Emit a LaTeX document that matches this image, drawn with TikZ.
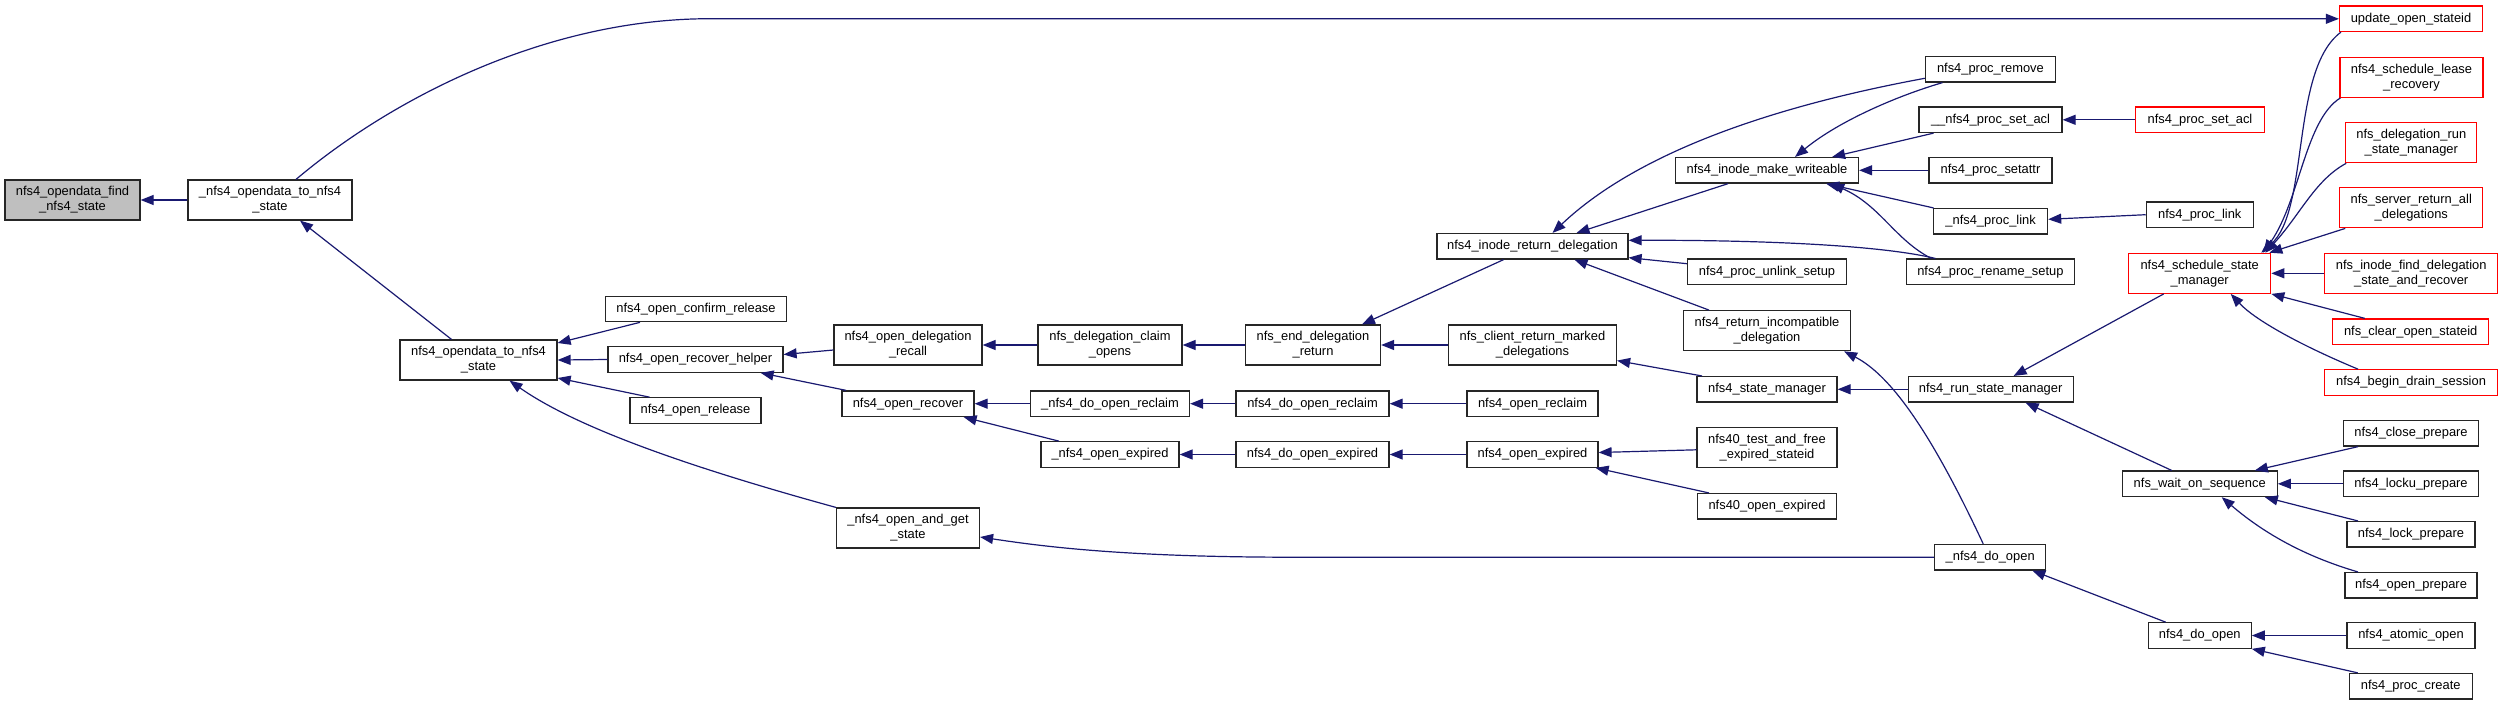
\documentclass[tikz,border=0pt]{standalone}
\usepackage{fontspec}
\setmainfont{Liberation Sans}
\usetikzlibrary{arrows.meta}
\definecolor{edgec}{HTML}{191970}
\definecolor{nodegrey}{HTML}{BFBFBF}
\tikzset{
  fn/.style={draw=black!85, line width=1.2pt, fill=white, inner sep=0pt, align=center,
    font=\fontsize{12.9}{15}\selectfont, minimum height=25.5pt},
  fnb/.style={fn, minimum height=40pt},
  redfn/.style={draw=red},
  e/.style={color=edgec, line width=1.2pt, -{Triangle[length=13pt,width=10pt]}},
}
\begin{document}
\begin{tikzpicture}[x=1pt,y=-1pt]
\useasboundingbox (0,0) rectangle (2503,705);
% column 0-2
\node[fnb, minimum width=135pt, fill=nodegrey] (find) at (72.5,200) {nfs4\_opendata\_find\\\_nfs4\_state};
\node[fnb, minimum width=164pt] (A2) at (270,200) {\_nfs4\_opendata\_to\_nfs4\\\_state};
\node[fnb, minimum width=157pt] (A3) at (478.5,360) {nfs4\_opendata\_to\_nfs4\\\_state};
\node[fn, minimum width=181pt] (ocr) at (696,309) {nfs4\_open\_confirm\_release};
\node[fn, minimum width=175pt] (orh) at (695.5,359.5) {nfs4\_open\_recover\_helper};
\node[fn, minimum width=131pt] (orl) at (695.5,410.5) {nfs4\_open\_release};
\node[fnb, minimum width=148pt] (odr) at (908,345) {nfs4\_open\_delegation\\\_recall};
\node[fn, minimum width=132pt] (orc) at (908,403.7) {nfs4\_open\_recover};
\node[fnb, minimum width=143pt] (oags) at (908,528) {\_nfs4\_open\_and\_get\\\_state};
\node[fnb, minimum width=144pt] (dco) at (1110,345) {nfs\_delegation\_claim\\\_opens};
\node[fn, minimum width=159pt] (dorc) at (1110,403.7) {\_nfs4\_do\_open\_reclaim};
\node[fn, minimum width=138pt] (oexp) at (1110,454.5) {\_nfs4\_open\_expired};
\node[fnb, minimum width=135pt] (edr) at (1313,345) {nfs\_end\_delegation\\\_return};
\node[fn, minimum width=153pt] (ndorc) at (1312.5,403.7) {nfs4\_do\_open\_reclaim};
\node[fn, minimum width=153pt] (ndoexp) at (1312.5,454.5) {nfs4\_do\_open\_expired};
\node[fn, minimum width=191pt] (ird) at (1532.5,246.3) {nfs4\_inode\_return\_delegation};
\node[fnb, minimum width=168pt] (crmd) at (1532.5,345) {nfs\_client\_return\_marked\\\_delegations};
\node[fn, minimum width=131pt] (nor) at (1532.5,403.7) {nfs4\_open\_reclaim};
\node[fn, minimum width=131pt] (noe) at (1532.5,454.5) {nfs4\_open\_expired};
\node[fn, minimum width=183pt] (imw) at (1767,170.3) {nfs4\_inode\_make\_writeable};
\node[fn, minimum width=159pt] (pus) at (1767,271.7) {nfs4\_proc\_unlink\_setup};
\node[fnb, minimum width=167pt] (rid) at (1767,330.7) {nfs4\_return\_incompatible\\\_delegation};
\node[fn, minimum width=140pt] (sm) at (1767,389.3) {nfs4\_state\_manager};
\node[fnb, minimum width=140pt] (tfes) at (1767,447.8) {nfs40\_test\_and\_free\\\_expired\_stateid};
\node[fn, minimum width=139pt] (o40) at (1767,506.3) {nfs40\_open\_expired};
\node[fn, minimum width=130pt] (prm) at (1990.4,69.3) {nfs4\_proc\_remove};
\node[fn, minimum width=143pt] (psa2) at (1990.5,119.8) {\_\_nfs4\_proc\_set\_acl};
\node[fn, minimum width=123pt] (pst) at (1990.5,170.3) {nfs4\_proc\_setattr};
\node[fn, minimum width=114pt] (pl2) at (1990.6,221.3) {\_nfs4\_proc\_link};
\node[fn, minimum width=168pt] (prs) at (1990.4,271.8) {nfs4\_proc\_rename\_setup};
\node[fn, minimum width=165pt] (rsm) at (1990.6,389.3) {nfs4\_run\_state\_manager};
\node[fn, minimum width=111pt] (do2) at (1990.2,557.2) {\_nfs4\_do\_open};
\node[fn, redfn, minimum width=129pt] (psa) at (2200,119.8) {nfs4\_proc\_set\_acl};
\node[fn, minimum width=107pt] (pl) at (2199.8,214.7) {nfs4\_proc\_link};
\node[fnb, redfn, minimum width=142pt] (ssm) at (2199.7,273.3) {nfs4\_schedule\_state\\\_manager};
\node[fn, minimum width=155pt] (wos) at (2199.7,483.8) {nfs\_wait\_on\_sequence};
\node[fn, minimum width=103pt] (ndo) at (2199.7,635.5) {nfs4\_do\_open};
\node[fn, redfn, minimum width=143pt] (uos) at (2411,18.8) {update\_open\_stateid};
\node[fnb, redfn, minimum width=143pt] (slr) at (2411.5,77.3) {nfs4\_schedule\_lease\\\_recovery};
\node[fnb, redfn, minimum width=131pt] (drsm) at (2411.3,142.7) {nfs\_delegation\_run\\\_state\_manager};
\node[fnb, redfn, minimum width=143pt] (sral) at (2411.3,207.8) {nfs\_server\_return\_all\\\_delegations};
\node[fnb, redfn, minimum width=173pt] (ifd) at (2411.2,273.3) {nfs\_inode\_find\_delegation\\\_state\_and\_recover};
\node[fn, redfn, minimum width=156pt] (cos) at (2410.7,331.7) {nfs\_clear\_open\_stateid};
\node[fn, redfn, minimum width=173pt] (bds) at (2411,382.5) {nfs4\_begin\_drain\_session};
\node[fn, minimum width=135pt] (clp) at (2411,433.3) {nfs4\_close\_prepare};
\node[fn, minimum width=135pt] (lup) at (2411,483.8) {nfs4\_locku\_prepare};
\node[fn, minimum width=128pt] (lkp) at (2411,534.3) {nfs4\_lock\_prepare};
\node[fn, minimum width=132pt] (opp) at (2411,585.3) {nfs4\_open\_prepare};
\node[fn, minimum width=128pt] (ao) at (2411,635.5) {nfs4\_atomic\_open};
\node[fn, minimum width=123pt] (pc) at (2410.7,686.2) {nfs4\_proc\_create};

% edges
\draw[e] (A2.west) -- (find.east);
\draw[e] ([xshift=26]A2.north) .. controls (390,100) and (540,22) .. (700,18.8) -- (uos.west);
\draw[e] ([xshift=-27]A3.north) -- ([xshift=30]A2.south);
\draw[e] ([xshift=-56]ocr.south) -- ([yshift=17]A3.east);
\draw[e] (orh.west) -- (A3.east);
\draw[e] ([xshift=-46]orl.north) -- ([yshift=-18]A3.east);
\draw[e] (oags.north west) .. controls (700,470) and (580,430) .. ([xshift=31]A3.south);
\draw[e] ([yshift=-5]odr.west) -- ([yshift=5]orh.east);
\draw[e] ([xshift=-62]orc.north) -- ([xshift=-23]orh.south east);
\draw[e] (dco.west) -- (odr.east);
\draw[e] (edr.west) -- (dco.east);
\draw[e] ([xshift=-29]ird.south) -- ([xshift=49]edr.north);
\draw[e] (crmd.west) -- (edr.east);
\draw[e] ([xshift=-65]sm.north) -- ([yshift=5]crmd.south east);
\draw[e] (rsm.west) -- (sm.east);
\draw[e] ([xshift=-36]ssm.south) -- ([xshift=23]rsm.north);
\draw[e] ([xshift=-28]wos.north) -- ([xshift=35]rsm.south);
% callers of nfs4_schedule_state_manager
\draw[e] ([xshift=2]uos.south west) .. controls (2290,70) and (2310,210) .. ([xshift=-10]ssm.north east);
\draw[e] ([xshift=1]slr.south west) .. controls (2305,120) and (2300,200) .. ([xshift=-8]ssm.north east);
\draw[e] ([xshift=1]drsm.south west) .. controls (2315,180) and (2300,215) .. ([xshift=-6]ssm.north east);
\draw[e] ([xshift=6]sral.south west) -- ([xshift=-2]ssm.north east);
\draw[e] (ifd.west) -- (ssm.east);
\draw[e] ([xshift=-46]cos.north) -- (ssm.south east);
\draw[e] ([xshift=-53]bds.north) .. controls (2300,345) and (2255,320) .. ([xshift=31]ssm.south);
% callers of nfs_wait_on_sequence
\draw[e] ([xshift=-53]clp.south) -- ([xshift=-23]wos.north east);
\draw[e] (lup.west) -- (wos.east);
\draw[e] ([xshift=-53]lkp.north) -- ([xshift=-13]wos.south east);
\draw[e] ([xshift=-53]opp.north) .. controls (2300,555) and (2260,530) .. ([xshift=22]wos.south);
% callers of nfs4_inode_return_delegation
\draw[e] ([yshift=-9]prm.west) .. controls (1780,105) and (1640,150) .. ([xshift=20]ird.north);
\draw[e] ([xshift=-39]imw.south) -- ([xshift=44]ird.north);
\draw[e] ([xshift=-55]prs.north) .. controls (1880,245) and (1760,240) .. ([yshift=6]ird.east);
\draw[e] ([yshift=8]pus.west) -- ([yshift=2]ird.south east);
\draw[e] ([xshift=-58]rid.north) -- ([xshift=42]ird.south);
% callers of nfs4_inode_make_writeable
\draw[e] ([xshift=-48]prm.south) .. controls (1900,95) and (1840,120) .. ([xshift=28]imw.north);
\draw[e] ([xshift=-57]psa2.south) -- ([xshift=-27]imw.north east);
\draw[e] (pst.west) -- (imw.east);
\draw[e] ([xshift=-57]pl2.north) -- ([xshift=-33]imw.south east);
\draw[e] ([xshift=-59]prs.north) .. controls (1895,240) and (1880,205) .. ([xshift=-28]imw.south east);
\draw[e] (psa.west) -- (psa2.east);
\draw[e] (pl.west) -- ([yshift=2]pl2.east);
% _nfs4_do_open
\draw[e] ([xshift=-7]do2.north) .. controls (1930,430) and (1890,375) .. ([xshift=-7]rid.south east);
\draw[e] (do2.west) -- (1290,557.2) .. controls (1120,557) and (1040,546) .. ([yshift=-9]oags.east);
\draw[e] ([xshift=-34]ndo.north) -- ([xshift=-14]do2.south east);
\draw[e] (ao.west) -- (ndo.east);
\draw[e] ([xshift=-53]pc.north) -- (ndo.south east);
% reclaim / expired chain
\draw[e] (dorc.west) -- (orc.east);
\draw[e] (ndorc.west) -- (dorc.east);
\draw[e] (nor.west) -- (ndorc.east);
\draw[e] ([xshift=-51]oexp.north) -- ([xshift=-11]orc.south east);
\draw[e] (ndoexp.west) -- (oexp.east);
\draw[e] (noe.west) -- (ndoexp.east);
\draw[e] ([yshift=-2]tfes.west) -- ([yshift=2]noe.east);
\draw[e] ([xshift=-58]o40.north) -- ([xshift=-3]noe.south east);
\end{tikzpicture}
\end{document}
